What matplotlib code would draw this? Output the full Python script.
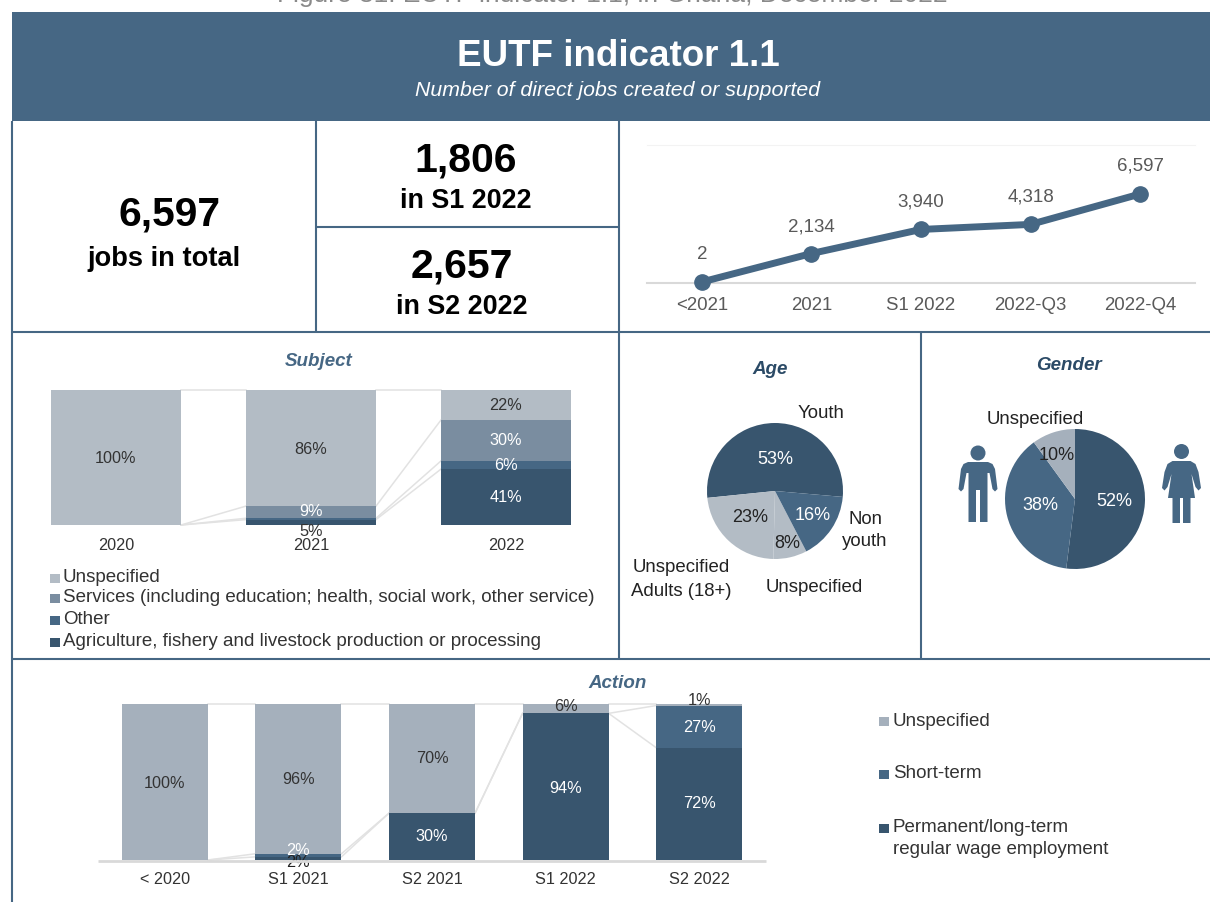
import matplotlib
matplotlib.use("Agg")
import matplotlib.pyplot as plt
from matplotlib.patches import Rectangle, Polygon, Circle
import numpy as np

plt.rcParams['font.family'] = ['Liberation Sans', 'DejaVu Sans']

# ---- data ----
line_cats = ['<2021', '2021', 'S1 2022', '2022-Q3', '2022-Q4']
line_vals = [2, 2134, 3940, 4318, 6597]

subject_cats = ['2020', '2021', '2022']
subject_unspecified = [100, 86, 22]
subject_services = [0, 9, 30]
subject_other = [0, 1, 6]
subject_agri = [0, 4, 41]
subject_unspecified_labels = ['100%', '86%', '22%']
subject_services_labels = ['', '9%', '30%']
subject_other_labels = ['', '', '6%']
subject_agri_labels = ['', '5%', '41%']
subject_names = ['Unspecified', 'Services (including education; health, social work, other service)',
                 'Other', 'Agriculture, fishery and livestock production or processing']

age_vals = [53, 23, 8, 16]
age_labels = ['53%', '23%', '8%', '16%']
gender_vals = [52, 38, 10]
gender_labels = ['52%', '38%', '10%']

action_cats = ['< 2020', 'S1 2021', 'S2 2021', 'S1 2022', 'S2 2022']
action_unspecified = [100, 96, 70, 6, 1]
action_short = [0, 2, 0, 0, 27]
action_perm = [0, 2, 30, 94, 72]
action_names = ['Unspecified', 'Short-term', 'Permanent/long-term\nregular wage employment']

# ---- colours ----
HEAD = '#466784'
DARK = '#38556E'
MID = '#466784'
SERV = '#7A8DA0'
LGT = '#B3BCC5'
LGT2 = '#A5B0BC'
CONN = '#E2E2E2'
TXT = '#404040'

W, H = 1210, 902
fig = plt.figure(figsize=(W / 100, H / 100), dpi=100, facecolor='white')

def px_axes(x0, y0, x1, y1, **kw):
    return fig.add_axes([x0 / W, 1 - y1 / H, (x1 - x0) / W, (y1 - y0) / H], **kw)

bg = px_axes(0, 0, W, H)
bg.set_xlim(0, W)
bg.set_ylim(H, 0)
bg.axis('off')
bg.set_zorder(5)
bg.patch.set_alpha(0)

def T(x, y, s, size=12, color=TXT, weight='normal', style='normal', ha='center', va='center', **kw):
    return bg.text(x, y + 2, s, fontsize=size, color=color, fontweight=weight, fontstyle=style,
                   ha=ha, va=va, **kw)

# header
T(612, -7, 'Figure 31: EUTF indicator 1.1, in Ghana, December 2022', size=19, color='#8A8A8A')
bg.add_patch(Rectangle((12, 12), W - 12, 109, fc=HEAD, ec='none'))
T(618, 54, 'EUTF indicator 1.1', size=26.5, color='white', weight='bold')
T(618, 89, 'Number of direct jobs created or supported', size=15.3, color='white', style='italic')

# grid of panels
for xs, ys in [((12, 12), (121, 902)), ((316, 316), (121, 332)), ((619, 619), (121, 659)),
               ((921, 921), (332, 659)), ((316, 619), (227, 227)), ((12, W), (332, 332)),
               ((12, W), (659, 659))]:
    bg.plot(xs, ys, color=HEAD, lw=1.5, solid_capstyle='butt')

# KPI text
T(169.5, 213, '6,597', size=29.3, color='black', weight='bold')
T(164, 257, 'jobs in total', size=19.6, color='black', weight='bold')
T(466, 158, '1,806', size=29.5, color='black', weight='bold')
T(466, 199, 'in S1 2022', size=19.4, color='black', weight='bold')
T(462, 264, '2,657', size=29.5, color='black', weight='bold')
T(462, 305, 'in S2 2022', size=19.4, color='black', weight='bold')

# line chart
la = px_axes(647, 145, 1195, 283)
la.set_xlim(-0.5, 4.5)
la.set_ylim(-75, 10270)
la.patch.set_alpha(0)
for s in ['left', 'right']:
    la.spines[s].set_visible(False)
la.spines['top'].set_color('#F3F3F3')
la.spines['bottom'].set_color('#D9D9D9')
la.spines['bottom'].set_linewidth(1.5)
la.set_yticks([])
la.set_xticks(range(5))
la.set_xticklabels(line_cats, fontsize=13.4, color='#595959')
la.tick_params(axis='x', length=0, pad=10)
la.plot(range(5), line_vals, color=HEAD, lw=5, marker='o', ms=11, clip_on=False, zorder=3)
for i, (v, dy) in enumerate(zip(line_vals, [27, 27, 27, 27, 28])):
    la.annotate(f'{v:,}', (i, v), xytext=(0, dy * 0.72), textcoords='offset points', ha='center',
                va='center', fontsize=13.5, color='#595959')

def stacked(ax, series, colors, labels, label_colors, width, label_shift, size=11.7):
    """series ordered bottom to top; every bar is scaled to 100 %."""
    arr = np.array(series, dtype=float)
    arr = arr / arr.sum(axis=0) * 100
    cum = np.cumsum(arr, axis=0)
    x = np.arange(arr.shape[1])
    bottom = np.zeros(arr.shape[1])
    for k, row in enumerate(arr):
        ax.bar(x, row, width, bottom=bottom, color=colors[k], linewidth=0, zorder=2)
        for i in x:
            if labels[k][i]:
                off = label_shift.get((k, int(i)), 0)
                ax.annotate(labels[k][i], (i, bottom[i] + row[i] / 2), xytext=(0, off),
                            textcoords='offset pixels', ha='center', va='center',
                            fontsize=size, color=label_colors[k], annotation_clip=False, zorder=4)
        bottom = bottom + row
    for k in range(arr.shape[0]):
        for i in x[:-1]:
            ax.plot([i + width / 2, i + 1 - width / 2], [cum[k][i], cum[k][i + 1]],
                    color=CONN, lw=1.1, zorder=1, clip_on=False)

# subject stacked bars
sa = px_axes(18.5, 390, 603.5, 525)
sa.set_xlim(-0.5, 2.5)
sa.set_ylim(0, 100)
sa.patch.set_alpha(0)
sa.axis('off')
stacked(sa,
        [subject_agri, subject_other, subject_services, subject_unspecified],
        [DARK, MID, SERV, LGT],
        [subject_agri_labels, subject_other_labels, subject_services_labels, subject_unspecified_labels],
        ['white', 'white', 'white', '#333333'],
        130 / 195, {(0, 1): -9, (2, 1): 1, (3, 0): -1, (3, 1): -1, (3, 2): -1})
# the 5 % label of 2021 sits below the bar in dark text
for t in sa.texts:
    if t.get_text() == '5%':
        t.set_color('#333333')
for i, c in enumerate(subject_cats):
    T(116 + 195 * i, 543, c, size=11.7, color='#333333')
T(319, 359, 'Subject', size=13.5, color=HEAD, weight='bold', style='italic')

for name, col, y in zip(subject_names, [LGT, SERV, MID, DARK], [576, 596, 618, 640]):
    bg.add_patch(Rectangle((50, y - 2.5), 10, 9, fc=col, ec='none'))
    T(63, y, name, size=13.5, color='#333333', ha='left')

# age pie
aa = px_axes(707, 423, 843, 559)
aa.pie(age_vals, colors=[DARK, LGT, LGT, MID], startangle=-5, counterclock=True, radius=1,
       wedgeprops=dict(linewidth=0))
aa.set_xlim(-1, 1)
aa.set_ylim(-1, 1)
for s, c, x, y in zip(age_labels, ['white', '#222222', '#222222', 'white'],
                      [775, 750, 787, 813], [458, 516, 541, 513]):
    T(x, y, s, size=13, color=c)
T(770, 368, 'Age', size=13.5, color='#2B4A66', weight='bold', style='italic')
T(821, 412, 'Youth', size=13.4, color='#222222')
T(865, 517, 'Non', size=13.4, color='#222222')
T(865, 540, 'youth', size=13.4, color='#222222')
T(681, 566, 'Unspecified', size=13.4, color='#222222')
T(681, 589, 'Adults (18+)', size=13.4, color='#222222')
T(814, 585, 'Unspecified', size=13.4, color='#222222')

# gender pie
ga = px_axes(1005, 429, 1145, 569)
ga.pie(gender_vals, colors=[DARK, MID, LGT2], startangle=90, counterclock=False, radius=1,
       wedgeprops=dict(linewidth=0))
ga.set_xlim(-1, 1)
ga.set_ylim(-1, 1)
for s, c, x, y in zip(gender_labels, ['white', 'white', '#222222'], [1114, 1040, 1057], [500, 503, 454]):
    T(x, y, s, size=13, color=c)
T(1069, 363, 'Gender', size=13.5, color='#2B4A66', weight='bold', style='italic')
T(1035, 417, 'Unspecified', size=13.4, color='#222222')

# person icons (decoration)
def man(cx):
    bg.add_patch(Circle((cx, 453), 7.5, fc=MID, ec='none'))
    bg.add_patch(Polygon([(cx - 10, 462), (cx + 10, 462), (cx + 14.5, 464), (cx + 17, 469), (cx + 19.5, 489),
                          (cx + 17, 491.5), (cx + 14.5, 489), (cx + 11.5, 473), (cx + 9.5, 473), (cx + 9.5, 522),
                          (cx + 2, 522), (cx + 2, 490), (cx - 2, 490), (cx - 2, 522),
                          (cx - 9.5, 522), (cx - 9.5, 473), (cx - 11.5, 473), (cx - 14.5, 489), (cx - 17, 491.5),
                          (cx - 19.5, 489), (cx - 17, 469), (cx - 14.5, 464)], closed=True, fc=MID, ec='none'))

def woman(cx):
    bg.add_patch(Circle((cx, 451.5), 7.5, fc=MID, ec='none'))
    bg.add_patch(Polygon([(cx - 9, 461), (cx + 9, 461), (cx + 14, 464), (cx + 17, 472), (cx + 19.5, 488),
                          (cx + 17, 490.5), (cx + 14, 487), (cx + 10, 474), (cx + 13.5, 498), (cx + 9, 498),
                          (cx + 9, 523), (cx + 1.5, 523), (cx + 1.5, 498), (cx - 1.5, 498),
                          (cx - 1.5, 523), (cx - 9, 523), (cx - 9, 498), (cx - 13.5, 498),
                          (cx - 10, 474), (cx - 14, 487), (cx - 17, 490.5), (cx - 19.5, 488), (cx - 17, 472),
                          (cx - 14, 464)], closed=True, fc=MID, ec='none'))

man(978)
woman(1181.5)

# action stacked bars
ca = px_axes(98, 704, 766, 860)
ca.set_xlim(-0.5, 4.5)
ca.set_ylim(0, 100)
ca.patch.set_alpha(0)
ca.axis('off')
act_u = [f'{v}%' for v in action_unspecified]
act_s = [f'{v}%' if v else '' for v in action_short]
act_p = [f'{v}%' if v else '' for v in action_perm]
stacked(ca, [action_perm, action_short, action_unspecified], [DARK, MID, LGT2],
        [act_p, act_s, act_u], ['white', 'white', '#333333'], 86 / 133.5,
        {(0, 1): -4, (1, 1): 5, (2, 3): 2, (2, 4): 4, (2, 0): -2, (2, 1): -1, (0, 3): -2, (1, 4): -1})
for t in ca.texts:
    if t.get_text() == '2%' and t.xy[1] < 2:
        t.set_color('#222222')
bg.plot([98, 766], [861, 861], color='#D9D9D9', lw=2, solid_capstyle='butt', zorder=1)
for i, c in enumerate(action_cats):
    T(165 + 133.5 * i, 877, c, size=11.7, color='#333333')
T(618, 681, 'Action', size=13.5, color=HEAD, weight='bold', style='italic')

for name, col, y in zip(action_names, [LGT2, MID, DARK], [719, 772, 826]):
    bg.add_patch(Rectangle((879, y - 2.5), 10, 9, fc=col, ec='none'))
    parts = name.split('\n')
    T(893, y, parts[0], size=13.5, color='#333333', ha='left')
    if len(parts) > 1:
        T(893, y + 21, parts[1], size=13.5, color='#333333', ha='left')

fig.savefig('out.png', dpi=100, facecolor='white')
